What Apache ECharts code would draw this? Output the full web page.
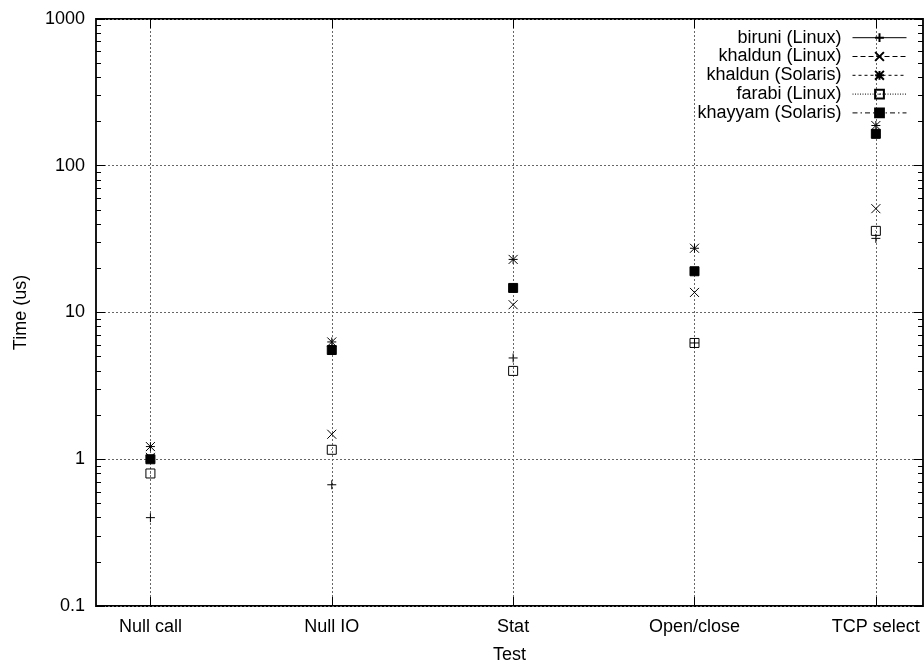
<!DOCTYPE html>
<html><head><meta charset="utf-8">
<script src="https://cdn.jsdelivr.net/npm/echarts@6/dist/echarts.min.js"></script>
<style>html,body{margin:0;padding:0;background:#fff}#c{width:924px;height:669px}</style>
</head><body><div id="c"></div>
<script>
// ---- data ----
const categories = ['Null call', 'Null IO', 'Stat', 'Open/close', 'TCP select'];
const categoryPositions = [0, 1, 2, 3, 4];
const yMajorTicks = [0.1, 1, 10, 100, 1000];
const yMinorTicks = [0.2,0.3,0.4,0.5,0.6,0.7,0.8,0.9, 2,3,4,5,6,7,8,9, 20,30,40,50,60,70,80,90, 200,300,400,500,600,700,800,900];
const seriesNames = ['biruni (Linux)', 'khaldun (Linux)', 'khaldun (Solaris)', 'farabi (Linux)', 'khayyam (Solaris)'];
const biruniLinux    = [0.40, 0.67, 4.9, 6.2, 32];
const khaldunLinux   = [1.03, 1.48, 11.3, 13.7, 51];
const khaldunSolaris = [1.22, 6.3, 23, 27.4, 188];
const farabiLinux    = [0.80, 1.16, 4.0, 6.2, 36];
const khayyamSolaris = [1.0, 5.55, 14.7, 19.1, 165];
const seriesValues = [biruniLinux, khaldunLinux, khaldunSolaris, farabiLinux, khayyamSolaris];

// ---- styles ----
const FONT = 'Liberation Sans, Arial, sans-serif';
const FS = 18;
const symbols = [
  'path://M0,5L10,5M5,0L5,10',
  'path://M0,0L10,10M10,0L0,10',
  'path://M0,5L10,5M5,0L5,10M0,0L10,10M10,0L0,10',
  'path://M0,0L10,0L10,10L0,10ZM4.7,4.7L5.3,5.3',
  'path://M0,0L10,0L10,10L0,10Z'
];
const fills = ['#000', '#000', '#000', 'rgba(0,0,0,0)', '#000'];
const dashes = ['solid', [5, 3], [3, 3], [1, 1.5], [5, 3, 1.5, 3]];
const gridLine = { show: true, lineStyle: { color: '#666', width: 1, type: [2, 2] } };
const noLine = { show: false, onZero: false };

const chart = echarts.init(document.getElementById('c'), null, { renderer: 'canvas' });

const yBase = { type: 'log', logBase: 10, min: 0.1, max: 1000, gridIndex: 0,
  axisLine: noLine, splitLine: { show: false }, axisLabel: { show: false } };

const option = {
  animation: false,
  backgroundColor: '#fff',
  textStyle: { fontFamily: FONT },
  grid: { left: 96, right: 1, top: 19, bottom: 56, show: true, borderColor: '#000', borderWidth: 1.8, backgroundColor: 'transparent' },
  xAxis: [
    { type: 'value', min: -0.3, max: 4.26, position: 'bottom',
      name: 'Test', nameLocation: 'middle', nameGap: 40,
      nameTextStyle: { fontSize: FS, color: '#000', fontFamily: FONT },
      axisLine: noLine,
      axisTick: { show: true, inside: true, length: 9, customValues: categoryPositions, lineStyle: { color: '#000', width: 1 } },
      axisLabel: { show: true, customValues: categoryPositions, margin: 12, fontSize: FS, color: '#000', fontFamily: FONT,
        formatter: v => categories[Math.round(v)] },
      splitLine: gridLine },
    { type: 'value', min: -0.3, max: 4.26, position: 'top',
      axisLine: noLine,
      axisTick: { show: true, inside: true, length: 9, customValues: categoryPositions, lineStyle: { color: '#000', width: 1 } },
      axisLabel: { show: false }, splitLine: { show: false } }
  ],
  yAxis: [
    Object.assign({}, yBase, { position: 'left',
      name: 'Time (us)', nameLocation: 'middle', nameGap: 66,
      nameTextStyle: { fontSize: FS, color: '#000', fontFamily: FONT },
      axisTick: { show: true, inside: true, length: 9, customValues: yMajorTicks, lineStyle: { color: '#000', width: 1 } },
      axisLabel: { show: true, customValues: yMajorTicks, margin: 11, fontSize: FS, color: '#000', fontFamily: FONT,
        formatter: v => String(v) },
      splitLine: gridLine }),
    Object.assign({}, yBase, { position: 'left',
      axisTick: { show: true, inside: true, length: 5, customValues: yMinorTicks, lineStyle: { color: '#000', width: 1 } } }),
    Object.assign({}, yBase, { position: 'right',
      axisTick: { show: true, inside: true, length: 9, customValues: yMajorTicks, lineStyle: { color: '#000', width: 1 } } }),
    Object.assign({}, yBase, { position: 'right',
      axisTick: { show: true, inside: true, length: 5, customValues: yMinorTicks, lineStyle: { color: '#000', width: 1 } } })
  ],
  legend: seriesNames.map((n, i) => ({
    data: [n], orient: 'vertical', align: 'right', right: 17, top: 28.7 + 18.8 * i,
    padding: 0, itemWidth: 54, itemHeight: 11, selectedMode: false,
    textStyle: { fontSize: FS, color: '#000', fontFamily: FONT, padding: [0, 6, 0, 0] },
    lineStyle: { color: '#000', width: 1, opacity: 1, type: dashes[i] }
  })),
  series: seriesNames.map((n, i) => ({
    type: 'line', name: n, xAxisIndex: 0, yAxisIndex: 0,
    data: seriesValues[i].map((v, k) => [categoryPositions[k], v]),
    symbol: symbols[i], symbolSize: 9, showSymbol: true, silent: true,
    lineStyle: { opacity: 0, width: 0, type: dashes[i] },
    itemStyle: { color: fills[i], borderColor: '#000', borderWidth: 1 },
    emphasis: { disabled: true }
  }))
};
chart.setOption(option);
</script>
</body></html>
